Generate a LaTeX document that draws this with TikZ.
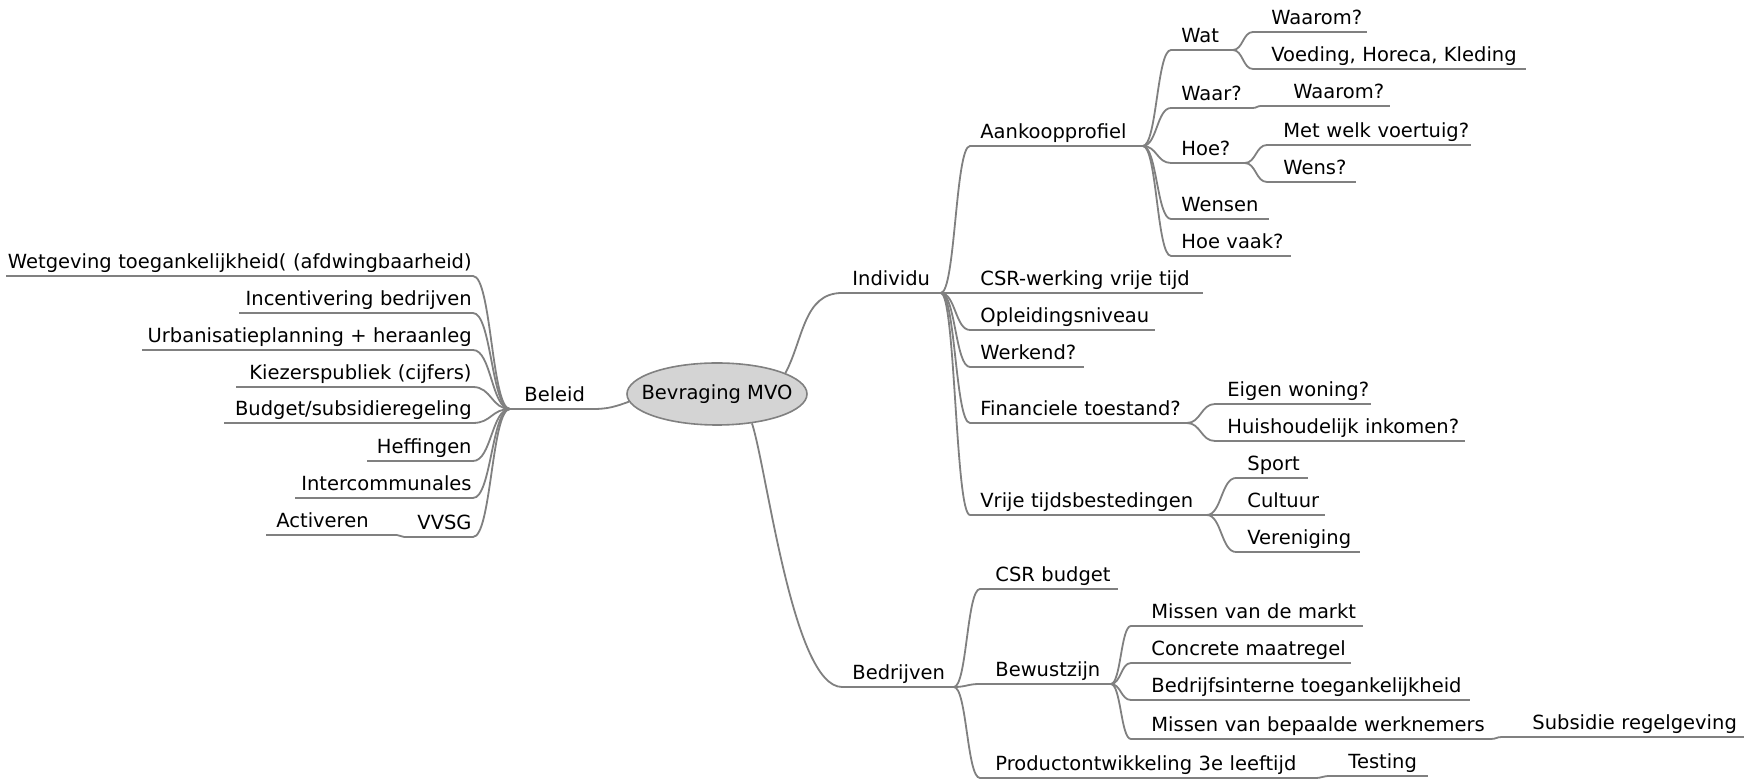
\documentclass[tikz,border=0pt]{standalone}
\usepackage{fontspec}
\setmainfont{DejaVu Sans}
\usepackage{tikz}
\usetikzlibrary{shapes.geometric, calc}
\definecolor{linegray}{RGB}{128,128,128}
\definecolor{topicgray}{RGB}{212,212,212}
\def\padlen{0pt}

\begin{document}
\begin{tikzpicture}[x=0.5pt, y=-0.5pt, every node/.style={font=\fontsize{9.75}{11}\selectfont}, pad/.code={\def\padlen{#1}}]
	\tikzstyle{topic}=[ellipse, draw=linegray, line width=0.8pt, fill=topicgray, minimum width=90pt, minimum height=31pt, inner sep=0pt]
	\tikzstyle{rleaf}=[anchor=south west, inner xsep=5pt, inner ysep=3.5pt, text depth=0pt, pad=0pt,
		execute at begin node={\hbox to \hsize\bgroup\hspace*{\padlen}}, execute at end node={\hss\egroup}]
	\tikzstyle{lleaf}=[anchor=south east, inner xsep=0.5pt, inner ysep=3.5pt, text depth=0pt,
		execute at begin node={\hbox to \hsize\bgroup\hss}, execute at end node={\egroup}]
	\tikzstyle{con}=[draw=linegray, line width=0.9pt]
	\tikzstyle{twig}=[to path={let \p1=(\tikztostart), \p2=(\tikztotarget) in
		.. controls ({0.5*\x1+0.5*\x2},\y1) and ({0.5*\x1+0.5*\x2},\y2) .. (\tikztotarget)}]
	\path[fill=white, use as bounding box] (0,0) rectangle (1753,779);

	\node (mvo) at (717,394) [topic]{\makebox[0pt]{Bevraging MVO}};

	% main branches
	\node (indiv) at (842,293) [rleaf, text width=39pt]{Individu};
	\node (bedr) at (842,687) [rleaf, text width=45.5pt]{Bedrijven};
	\node (beleid) at (510,409) [rleaf, text width=31.5pt, pad=2pt]{Beleid};

	% Individu
	\node (aank) at (970,146) [rleaf, text width=76pt]{Aankoopprofiel};
	\node (csrw) at (970,293) [rleaf, text width=106pt]{CSR-werking vrije tijd};
	\node (opl) at (970,330) [rleaf, text width=82pt]{Opleidingsniveau};
	\node (werk) at (970,367) [rleaf, text width=46.5pt]{Werkend?};
	\node (fin) at (970,423) [rleaf, text width=98pt]{Financiele toestand?};
	\node (vrij) at (970,515) [rleaf, text width=108pt]{Vrije tijdsbestedingen};

	\node (wat) at (1171,50) [rleaf, text width=20.5pt]{Wat};
	\node (waar) at (1171,108) [rleaf, text width=30.5pt]{Waar?};
	\node (hoe) at (1171,163) [rleaf, text width=26.5pt]{Hoe?};
	\node (wensen) at (1171,219) [rleaf, text width=38.5pt]{Wensen};
	\node (hoevaak) at (1171,256) [rleaf, text width=49.5pt]{Hoe vaak?};

	\node (waarom1) at (1253,32) [rleaf, text width=46.5pt, pad=4pt]{Waarom?};
	\node (voeding) at (1253,69) [rleaf, text width=126pt, pad=4pt]{Voeding, Horeca, Kleding};
	\node (waarom2) at (1261,106) [rleaf, text width=54pt, pad=11pt]{Waarom?};
	\node (voertuig) at (1267,145) [rleaf, text width=91.5pt, pad=3pt]{Met welk voertuig?};
	\node (wens) at (1267,182) [rleaf, text width=34pt, pad=3pt]{Wens?};

	\node (woning) at (1215,404) [rleaf, text width=67.5pt, pad=1pt]{Eigen woning?};
	\node (inkomen) at (1215,441) [rleaf, text width=114.5pt, pad=1pt]{Huishoudelijk inkomen?};
	\node (sport) at (1236,478) [rleaf, text width=25.5pt, pad=0.5pt]{Sport};
	\node (cultuur) at (1236,515) [rleaf, text width=34pt, pad=0.5pt]{Cultuur};
	\node (veren) at (1236,552) [rleaf, text width=51.5pt, pad=0.5pt]{Vereniging};

	% Bedrijven
	\node (csrb) at (980,589) [rleaf, text width=58.5pt, pad=2.5pt]{CSR budget};
	\node (bewust) at (980,684) [rleaf, text width=55pt, pad=2.5pt]{Bewustzijn};
	\node (prod) at (980,778) [rleaf, text width=157pt, pad=2.5pt]{Productontwikkeling 3e leeftijd};
	\node (markt) at (1131,626) [rleaf, text width=105.5pt, pad=5pt]{Missen van de markt};
	\node (maatr) at (1131,663) [rleaf, text width=99.5pt, pad=5pt]{Concrete maatregel};
	\node (intern) at (1131,700) [rleaf, text width=159pt, pad=5pt]{Bedrijfsinterne toegankelijkheid};
	\node (werkn) at (1131,739) [rleaf, text width=169.5pt, pad=5pt]{Missen van bepaalde werknemers};
	\node (subs) at (1502,737) [rleaf, text width=110.5pt, pad=10pt]{Subsidie regelgeving};
	\node (test) at (1330,776) [rleaf, text width=38.5pt, pad=4pt]{Testing};

	% Beleid
	\node (wetg) at (473,276) [lleaf, text width=232pt]{Wetgeving toegankelijkheid( (afdwingbaarheid)};
	\node (incent) at (473,313) [lleaf, text width=115.5pt]{Incentivering bedrijven};
	\node (urban) at (473,350) [lleaf, text width=164pt]{Urbanisatieplanning + heraanleg};
	\node (kiez) at (473,387) [lleaf, text width=117pt]{Kiezerspubliek (cijfers)};
	\node (budg) at (473,423) [lleaf, text width=123pt]{Budget/subsidieregeling};
	\node (heff) at (473,461) [lleaf, text width=51.5pt]{Heffingen};
	\node (interc) at (473,498) [lleaf, text width=87.5pt]{Intercommunales};
	\node (vvsg) at (473,537) [lleaf, text width=33pt]{VVSG};
	\node (activ) at (266,535) [rleaf, text width=55pt]{Activeren};

	\draw[con] (mvo.17) to[out=62,in=180] (indiv.south west) -- (indiv.south east);
	\draw[con] (mvo.-40) to[out=-72,in=180,looseness=0.45] (bedr.south west) -- (bedr.south east);
	\draw[con] (mvo.185) to[out=200,in=0] (beleid.south east) -- (beleid.south west);

	\draw[con] (indiv.south east) to[twig] (aank.south west) -- (aank.south east);
	\draw[con] (indiv.south east) to[twig] (csrw.south west) -- (csrw.south east);
	\draw[con] (indiv.south east) to[twig] (opl.south west) -- (opl.south east);
	\draw[con] (indiv.south east) to[twig] (werk.south west) -- (werk.south east);
	\draw[con] (indiv.south east) to[twig] (fin.south west) -- (fin.south east);
	\draw[con] (indiv.south east) to[twig] (vrij.south west) -- (vrij.south east);

	\draw[con] (aank.south east) to[twig] (wat.south west) -- (wat.south east);
	\draw[con] (aank.south east) to[twig] (waar.south west) -- (waar.south east);
	\draw[con] (aank.south east) to[twig] (hoe.south west) -- (hoe.south east);
	\draw[con] (aank.south east) to[twig] (wensen.south west) -- (wensen.south east);
	\draw[con] (aank.south east) to[twig] (hoevaak.south west) -- (hoevaak.south east);

	\draw[con] (wat.south east) to[twig] (waarom1.south west) -- (waarom1.south east);
	\draw[con] (wat.south east) to[twig] (voeding.south west) -- (voeding.south east);
	\draw[con] (waar.south east) to[twig] (waarom2.south west) -- (waarom2.south east);
	\draw[con] (hoe.south east) to[twig] (voertuig.south west) -- (voertuig.south east);
	\draw[con] (hoe.south east) to[twig] (wens.south west) -- (wens.south east);

	\draw[con] (fin.south east) to[twig] (woning.south west) -- (woning.south east);
	\draw[con] (fin.south east) to[twig] (inkomen.south west) -- (inkomen.south east);
	\draw[con] (vrij.south east) to[twig] (sport.south west) -- (sport.south east);
	\draw[con] (vrij.south east) to[twig] (cultuur.south west) -- (cultuur.south east);
	\draw[con] (vrij.south east) to[twig] (veren.south west) -- (veren.south east);

	\draw[con] (bedr.south east) to[twig] (csrb.south west) -- (csrb.south east);
	\draw[con] (bedr.south east) to[twig] (bewust.south west) -- (bewust.south east);
	\draw[con] (bedr.south east) to[twig] (prod.south west) -- (prod.south east);
	\draw[con] (bewust.south east) to[twig] (markt.south west) -- (markt.south east);
	\draw[con] (bewust.south east) to[twig] (maatr.south west) -- (maatr.south east);
	\draw[con] (bewust.south east) to[twig] (intern.south west) -- (intern.south east);
	\draw[con] (bewust.south east) to[twig] (werkn.south west) -- (werkn.south east);
	\draw[con] (werkn.south east) to[twig] (subs.south west) -- (subs.south east);
	\draw[con] (prod.south east) to[twig] (test.south west) -- (test.south east);

	\draw[con] (beleid.south west) to[twig] (wetg.south east) -- (wetg.south west);
	\draw[con] (beleid.south west) to[twig] (incent.south east) -- (incent.south west);
	\draw[con] (beleid.south west) to[twig] (urban.south east) -- (urban.south west);
	\draw[con] (beleid.south west) to[twig] (kiez.south east) -- (kiez.south west);
	\draw[con] (beleid.south west) to[twig] (budg.south east) -- (budg.south west);
	\draw[con] (beleid.south west) to[twig] (heff.south east) -- (heff.south west);
	\draw[con] (beleid.south west) to[twig] (interc.south east) -- (interc.south west);
	\draw[con] (beleid.south west) to[twig] (vvsg.south east) -- (vvsg.south west);
	\draw[con] (vvsg.south west) to[twig] (activ.south east) -- (activ.south west);
\end{tikzpicture}
\end{document}
